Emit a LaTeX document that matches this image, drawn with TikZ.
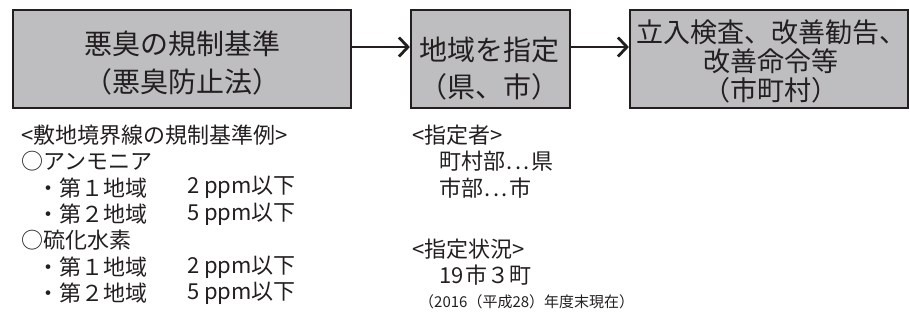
\documentclass[tikz,border=0pt]{standalone}
\usepackage{fontspec}
\setmainfont{Noto Sans CJK JP}
\usetikzlibrary{arrows.meta}
\definecolor{boxgray}{RGB}{190,190,192}
\definecolor{ink}{RGB}{35,31,32}
\newcommand{\mydots}{\kern1.5pt.\kern2.5pt.\kern2.5pt.\kern1.5pt}
\tikzset{
  box/.style={draw=ink, fill=boxgray, line width=2.2pt, inner sep=0pt, rectangle},
  boxtext/.style={text=ink, align=center, inner sep=0pt},
  flow/.style={draw=ink, line width=2.8pt, -{Straight Barb[length=9pt,width=19pt,line width=2.8pt]}},
  body/.style={text=ink, anchor=west, inner sep=0pt, font=\fontsize{22}{26}\selectfont},
  note/.style={text=ink, anchor=west, inner sep=0pt, font=\fontsize{15}{18}\selectfont}
}
\begin{document}
\begin{tikzpicture}[x=1pt,y=-1pt]
\useasboundingbox (0,0) rectangle (910,322);
% boxes
\node[box, minimum width=338pt, minimum height=98pt] (b1) at (182,59) {};
\node[box, minimum width=159pt, minimum height=98pt] (b2) at (490.5,59) {};
\node[box, minimum width=278pt, minimum height=98pt] (b3) at (769,59) {};
% box texts
\node[boxtext, font=\fontsize{28}{38}\selectfont] (t1) at (182,63) {悪臭の規制基準\\（悪臭防止法）};
\node[boxtext, font=\fontsize{28}{37}\selectfont] (t2) at (489,69) {地域を指定\\（県、市）};
\node[boxtext, font=\fontsize{27}{29}\selectfont] (t3) at (771,61) {立入検査、改善勧告、\\改善命令等\\（市町村）};
% arrows
\draw[flow] ([yshift=12pt]b1.east) -- ([yshift=12pt]b2.west);
\draw[flow] ([yshift=12pt]b2.east) -- ([yshift=12pt]b3.west);
% left column
\node[body] (l1) at (21,135) {<敷地境界線の規制基準例>};
\node[body] (l2) at (21,161.4) {○アンモニア};
\node[body] (l3) at (37,187.8) {・第１地域};
\node[body] (l3v) at (187,187.8) {2 ppm以下};
\node[body] (l4) at (37,214.2) {・第２地域};
\node[body] (l4v) at (187,214.2) {5 ppm以下};
\node[body] (l5) at (21,240.6) {○硫化水素};
\node[body] (l6) at (37,267) {・第１地域};
\node[body] (l6v) at (187,267) {2 ppm以下};
\node[body] (l7) at (37,293.4) {・第２地域};
\node[body] (l7v) at (187,293.4) {5 ppm以下};
% right column
\node[body] (r1) at (412,135) {<指定者>};
\node[body] (r2) at (439,161.4) {町村部\mydots 県};
\node[body] (r3) at (439,187.8) {市部\mydots 市};
\node[body] (r4) at (412,249) {<指定状況>};
\node[body] (r5) at (439,275.5) {19\kern2pt 市３町};
\node[note] (r6) at (419,302) {（2016（平成28）年度末現在）};
\end{tikzpicture}
\end{document}
